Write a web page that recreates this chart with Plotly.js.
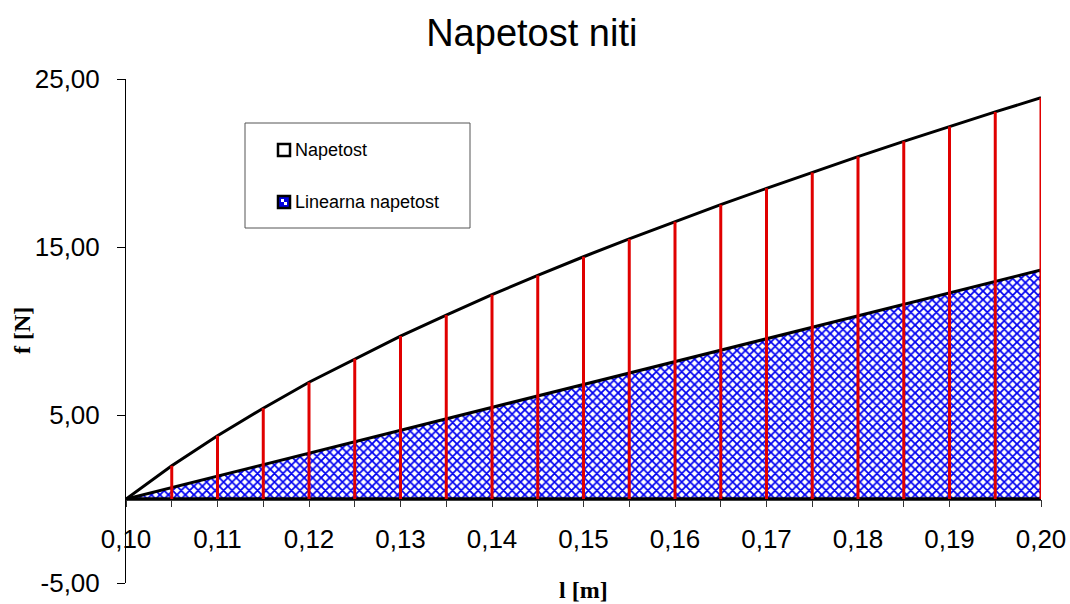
<!DOCTYPE html>
<html>
<head>
<meta charset="utf-8">
<script src="https://cdn.plot.ly/plotly-3.0.1.min.js"></script>
<style>
  html, body { margin: 0; padding: 0; background: #ffffff; }
  #chart { width: 1070px; height: 604px; }
</style>
</head>
<body>
<div id="chart"></div>
<script>
// Length of the thread l [m]
const lengths = [0.100, 0.105, 0.110, 0.115, 0.120, 0.125, 0.130, 0.135, 0.140, 0.145,
                 0.150, 0.155, 0.160, 0.165, 0.170, 0.175, 0.180, 0.185, 0.190, 0.195, 0.200];
// Thread tension f [N]
const napetost = [0.00, 1.98, 3.77, 5.40, 6.95, 8.35, 9.70, 10.95, 12.16, 13.31,
                  14.42, 15.48, 16.51, 17.52, 18.49, 19.44, 20.38, 21.29, 22.18, 23.04, 23.89];
// Linear tension f [N]
const linearna = [0.00, 0.68, 1.36, 2.04, 2.73, 3.41, 4.09, 4.77, 5.45, 6.13,
                  6.82, 7.50, 8.18, 8.86, 9.54, 10.22, 10.90, 11.58, 12.27, 12.95, 13.63];

const seriesNames = ['Napetost', 'Linearna napetost'];

const xTickVals = [0.10, 0.11, 0.12, 0.13, 0.14, 0.15, 0.16, 0.17, 0.18, 0.19, 0.20];
const xTickText = ['0,10', '0,11', '0,12', '0,13', '0,14', '0,15', '0,16', '0,17', '0,18', '0,19', '0,20'];
const yTickVals = [-5, 5, 15, 25];
const yTickText = ['-5,00', '5,00', '15,00', '25,00'];

const yRange = [-5, 25];
const xRange = [0.10, 0.20];

const SANS = 'Liberation Sans, Arial, sans-serif';
const SERIF = 'Liberation Serif, Times New Roman, serif';

// Plot area in pixels (for placing the legend box in paper coordinates)
const M = { l: 126, r: 29, t: 79, b: 21 };
const W = 1070 - M.l - M.r;
const H = 604 - M.t - M.b;
const px = x => (x - M.l) / W;
const py = y => (604 - M.b - y) / H;

// Vertical red lines from the baseline up to the tension curve
const dropX = [], dropY = [];
lengths.forEach((l, i) => {
  if (i === 0) return;
  dropX.push(l, l, null);
  dropY.push(0, napetost[i], null);
});

const traces = [
  {
    x: lengths, y: linearna, name: seriesNames[1], type: 'scatter', mode: 'lines',
    fill: 'tozeroy', fillcolor: '#ffffff',
    fillpattern: { shape: 'x', fgcolor: '#0000f0', bgcolor: '#ffffff', size: 6, solidity: 0.5 },
    line: { color: '#000000', width: 3 }, cliponaxis: false, showlegend: false, hoverinfo: 'skip'
  },
  {
    x: lengths, y: napetost, name: seriesNames[0], type: 'scatter', mode: 'lines',
    line: { color: '#000000', width: 3 }, cliponaxis: false, showlegend: false, hoverinfo: 'skip'
  },
  {
    x: [lengths[0], lengths[lengths.length - 1]], y: [0, 0], type: 'scatter', mode: 'lines',
    line: { color: '#000000', width: 3.5 }, cliponaxis: false, showlegend: false, hoverinfo: 'skip'
  },
  {
    x: dropX, y: dropY, type: 'scatter', mode: 'lines',
    line: { color: '#e00000', width: 3 }, cliponaxis: false, showlegend: false, hoverinfo: 'skip'
  }
];

const layout = {
  width: 1070, height: 604,
  margin: M,
  paper_bgcolor: '#ffffff', plot_bgcolor: '#ffffff',
  showlegend: false,
  title: {
    text: 'Napetost niti',
    font: { family: SANS, size: 38, color: '#000000' },
    x: 0.497, xref: 'container', xanchor: 'center',
    y: 1 - 33 / 604, yref: 'container', yanchor: 'middle'
  },
  xaxis: {
    range: xRange, anchor: 'free',
    position: (0 - yRange[0]) / (yRange[1] - yRange[0]),
    tickmode: 'array', tickvals: xTickVals, ticktext: xTickText,
    ticks: 'outside', ticklen: 7, tickcolor: '#333333', tickwidth: 1,
    minor: { tickmode: 'linear', tick0: 0.10, dtick: 0.005, ticks: 'outside', ticklen: 7, tickcolor: '#333333', tickwidth: 1, showgrid: false },
    ticklabelstandoff: 10,
    tickfont: { family: SANS, size: 26, color: '#000000' },
    showline: true, linecolor: '#000000', linewidth: 1,
    showgrid: false, zeroline: false, fixedrange: true
  },
  yaxis: {
    range: yRange,
    tickmode: 'array', tickvals: yTickVals, ticktext: yTickText,
    ticks: 'outside', ticklen: 8, tickcolor: '#000000', tickwidth: 1,
    ticklabelstandoff: 12,
    tickfont: { family: SANS, size: 26, color: '#000000' },
    showline: true, linecolor: '#000000', linewidth: 1,
    showgrid: false, zeroline: false, fixedrange: true
  },
  shapes: [
    // legend frame
    { type: 'rect', xref: 'paper', yref: 'paper', x0: px(245), x1: px(470), y0: py(228), y1: py(123),
      line: { color: '#555555', width: 1 }, fillcolor: '#ffffff', layer: 'above' },
    // legend key: Napetost
    { type: 'rect', xref: 'paper', yref: 'paper', x0: px(278), x1: px(290), y0: py(156), y1: py(144),
      line: { color: '#000000', width: 2.5 }, fillcolor: '#ffffff', layer: 'above' },
    // legend key: Linearna napetost (small checked square)
    { type: 'rect', xref: 'paper', yref: 'paper', x0: px(278), x1: px(290), y0: py(208), y1: py(196),
      line: { color: '#000000', width: 2.5 }, fillcolor: '#0000e0', layer: 'above' },
    { type: 'rect', xref: 'paper', yref: 'paper', x0: px(281), x1: px(284), y0: py(202), y1: py(199),
      line: { width: 0 }, fillcolor: '#ffffff', layer: 'above' },
    { type: 'rect', xref: 'paper', yref: 'paper', x0: px(284), x1: px(287), y0: py(205), y1: py(202),
      line: { width: 0 }, fillcolor: '#ffffff', layer: 'above' }
  ],
  annotations: [
    { text: seriesNames[0], xref: 'paper', yref: 'paper', x: px(293), y: py(150),
      xanchor: 'left', yanchor: 'middle', showarrow: false,
      font: { family: SANS, size: 18, color: '#000000' } },
    { text: seriesNames[1], xref: 'paper', yref: 'paper', x: px(293), y: py(202),
      xanchor: 'left', yanchor: 'middle', showarrow: false,
      font: { family: SANS, size: 18, color: '#000000' } },
    // axis titles
    { text: '<b>l [m]</b>', xref: 'paper', yref: 'paper', x: 0.5, y: py(590),
      xanchor: 'center', yanchor: 'middle', showarrow: false,
      font: { family: SERIF, size: 24, color: '#000000' } },
    { text: '<b>f [N]</b>', xref: 'paper', yref: 'paper', x: px(22), y: 0.5, textangle: -90,
      xanchor: 'center', yanchor: 'middle', showarrow: false,
      font: { family: SERIF, size: 24, color: '#000000' } }
  ]
};

Plotly.newPlot('chart', traces, layout, { staticPlot: true, displayModeBar: false });
</script>
</body>
</html>
